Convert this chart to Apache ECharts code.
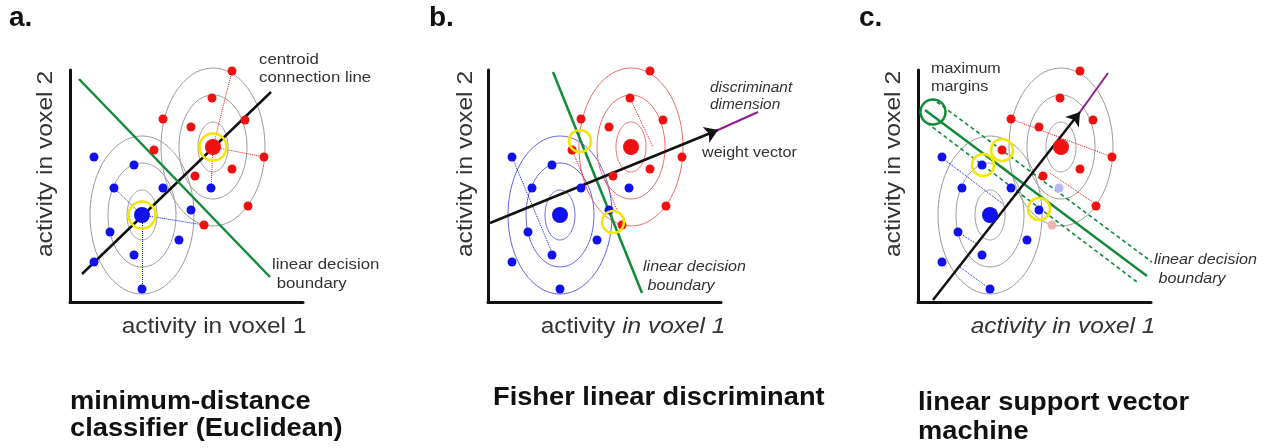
<!DOCTYPE html>
<html>
<head>
<meta charset="utf-8">
<script src="https://cdn.jsdelivr.net/npm/echarts@6/dist/echarts.min.js"></script>
<style>
  html, body { margin: 0; background: #fff; }
  #main { width: 1271px; height: 448px; }
</style>
</head>
<body>
<div id="main"></div>
<script>
// same two classes in all three panels (units: voxel activity, arbitrary)
const redPoints = [[162, 231], [142, 204], [93, 183], [121, 175], [175, 182], [84, 152],
  [194, 145], [125, 126], [162, 133], [178, 96], [134, 77]];
const bluePoints = [[24, 145], [64, 137], [44, 114], [93, 114], [141, 114], [121, 92],
  [40, 70], [109, 62], [64, 47], [24, 40], [72, 13]];
const redCentroid = [143, 155];
const blueCentroid = [72, 87];
const contourRx = [15, 34, 52];
const contourRy = [25, 52, 79];

// a. minimum-distance classifier
const aCentroidLine = [[12, 28], [201, 210]];
const aBoundary = [[9, 223], [200, 25]];
const aRedDistances = [[162, 231], [194, 145], [141, 114]];
const aBlueDistances = [[44, 114], [134, 77], [72, 13]];

// b. Fisher linear discriminant
const bBoundary = [[65, 230], [154, 9]];
const bWeight = [[2, 79], [230, 172]];
const bDiscriminant = [[230, 172], [270, 190]];
const bBlueProjections = [[[24, 145], [65, 47]]];
const bRedProjections = [[[142, 204], [165, 155]], [[84, 152], [99, 117]], [[117, 122], [129, 92]]];
const bHighlighted = [[92, 161], [125, 80]];

// c. linear support vector machine
const cWeight = [[15, 2], [162, 190]];
const cDiscriminant = [[162, 190], [190, 229]];
const cBoundary = [[7, 192], [229, 26]];
const cMargins = [[[19, 200], [234, 40]], [[9, 179], [219, 20]]];
const cBlueProjections = [[[23, 145], [85, 98]], [[40, 70], [60, 57]], [[42, 35], [72, 13]]];
const cRedProjections = [[[93, 183], [194, 145]], [[132, 129], [179, 97]]];
const cSupportVectors = [[84, 152], [65, 137], [121, 93]];
const cPaleBlue = [[141, 114]];
const cPaleRed = [[134, 77]];
const cMarginMark = [[15, 190]];

const RED = "#ee1111";
const BLUE = "#1111ee";
const GREEN = "#138a3a";
const GRAY = "#9a9a9a";
const YELLOW = "#f3e600";
const PURPLE = "#8e1e8e";
const TEXT = "#333";

const chartDom = document.getElementById("main");
const myChart = echarts.init(chartDom, null, { renderer: "canvas" });

const lefts = [70, 488, 918];

function contourData(centroid) {
  return contourRx.map((rx, i) => [centroid[0], centroid[1], rx, contourRy[i]]);
}

// ellipses drawn through the axis scale
function contours(panel, centroid, color) {
  return {
    type: "custom",
    xAxisIndex: panel,
    yAxisIndex: panel,
    silent: true,
    clip: false,
    z: 1,
    data: contourData(centroid),
    renderItem: function (params, api) {
      const c = api.coord([api.value(0), api.value(1)]);
      const s = api.size([api.value(2), api.value(3)]);
      const pts = [];
      for (let k = 0; k <= 90; k++) {
        const t = (k / 90) * 2 * Math.PI;
        pts.push([c[0] + s[0] * Math.cos(t), c[1] + s[1] * Math.sin(t)]);
      }
      return { type: "polyline", shape: { points: pts }, style: { stroke: color, fill: null, lineWidth: 1 } };
    },
  };
}

function segs(panel, list, color, width, type, z, arrow) {
  return {
    type: "lines",
    coordinateSystem: "cartesian2d",
    xAxisIndex: panel,
    yAxisIndex: panel,
    silent: true,
    clip: false,
    z: z,
    symbol: arrow ? ["none", "arrow"] : ["none", "none"],
    symbolSize: arrow ? 13 : 0,
    lineStyle: { color: color, width: width, type: type, opacity: 1 },
    data: list.map((s) => ({ coords: s })),
  };
}

function dots(panel, list, color, size, z) {
  return {
    type: "scatter",
    xAxisIndex: panel,
    yAxisIndex: panel,
    silent: true,
    clip: false,
    z: z || 4,
    symbolSize: size,
    itemStyle: { color: color, opacity: 1 },
    data: list,
  };
}

function rings(panel, list, color, size) {
  return {
    type: "scatter",
    xAxisIndex: panel,
    yAxisIndex: panel,
    silent: true,
    clip: false,
    z: 6,
    symbolSize: size,
    itemStyle: { color: "rgba(0,0,0,0)", borderColor: color, borderWidth: 2.5, opacity: 1 },
    data: list,
  };
}

function fromCentroid(c, list) {
  return list.map((p) => [c, p]);
}

const series = [
  // a
  contours(0, blueCentroid, GRAY),
  contours(0, redCentroid, GRAY),
  segs(0, fromCentroid(redCentroid, aRedDistances), RED, 1, "dotted", 2),
  segs(0, fromCentroid(blueCentroid, aBlueDistances), BLUE, 1, "dotted", 2),
  segs(0, [aCentroidLine], "#111", 2.5, "solid", 3),
  segs(0, [aBoundary], GREEN, 2.5, "solid", 3),
  dots(0, redPoints, RED, 9),
  dots(0, bluePoints, BLUE, 9),
  dots(0, [redCentroid], RED, 16),
  dots(0, [blueCentroid], BLUE, 16),
  rings(0, [redCentroid, blueCentroid], YELLOW, 27),
  // b
  contours(1, blueCentroid, "#6464e4"),
  contours(1, redCentroid, "#ea6a6a"),
  segs(1, bBlueProjections, BLUE, 1, "dotted", 2),
  segs(1, bRedProjections, RED, 1, "dotted", 2),
  segs(1, [bBoundary], GREEN, 2.5, "solid", 3),
  segs(1, [bDiscriminant], PURPLE, 2, "solid", 3),
  segs(1, [bWeight], "#111", 2.5, "solid", 3, true),
  dots(1, redPoints, RED, 9),
  dots(1, bluePoints, BLUE, 9),
  dots(1, [redCentroid], RED, 16),
  dots(1, [blueCentroid], BLUE, 16),
  rings(1, bHighlighted, YELLOW, 22),
  // c
  contours(2, blueCentroid, GRAY),
  contours(2, redCentroid, GRAY),
  segs(2, cBlueProjections, BLUE, 1, "dotted", 2),
  segs(2, cRedProjections, RED, 1, "dotted", 2),
  segs(2, cMargins, GREEN, 1.6, [4, 3], 3),
  segs(2, [cBoundary], GREEN, 2.5, "solid", 3),
  segs(2, [cDiscriminant], PURPLE, 2, "solid", 3),
  segs(2, [cWeight], "#111", 2.5, "solid", 3, true),
  dots(2, redPoints.filter((p) => p[0] !== 134), RED, 9),
  dots(2, bluePoints.filter((p) => p[0] !== 141), BLUE, 9),
  dots(2, cPaleBlue, "#b4b8f0", 9),
  dots(2, cPaleRed, "#f0b4b4", 9),
  dots(2, [redCentroid], RED, 16),
  dots(2, [blueCentroid], BLUE, 16),
  rings(2, cSupportVectors, YELLOW, 22),
  rings(2, cMarginMark, GREEN, 25),
];

// text in the figure is a little wider than the font, hence scaleX
function txt(x, y, text, font, sx, extra) {
  return {
    type: "text",
    x: x,
    y: y,
    silent: true,
    scaleX: sx,
    rotation: extra && extra.rotation ? extra.rotation : 0,
    style: Object.assign({ text: text, font: font, fill: TEXT }, extra && extra.style),
  };
}

const small = "14px Arial, 'Liberation Sans', sans-serif";
const axisFont = "22px Arial, 'Liberation Sans', sans-serif";
const capFont = "bold 25px Arial, 'Liberation Sans', sans-serif";
const tagFont = "bold 28px Arial, 'Liberation Sans', sans-serif";
const mid = { align: "center", verticalAlign: "middle" };
const up = { rotation: Math.PI / 2, style: mid };

const graphic = [
  txt(9, 4, "a.", tagFont, 1, { style: { fill: "#111" } }),
  txt(429, 4, "b.", tagFont, 1, { style: { fill: "#111" } }),
  txt(859, 4, "c.", tagFont, 1, { style: { fill: "#111" } }),

  txt(46, 164, "activity in voxel 2", axisFont, 1.12, up),
  txt(466, 164, "activity in voxel 2", axisFont, 1.12, up),
  txt(894, 164, "activity in voxel 2", axisFont, 1.12, up),

  txt(214, 327, "activity in voxel 1", axisFont, 1.11, { style: mid }),
  {
    type: "text", x: 633, y: 327, silent: true, scaleX: 1.11,
    style: {
      text: "{n|activity }{i|in voxel 1}", align: "center", verticalAlign: "middle",
      rich: {
        n: { font: axisFont, fill: TEXT },
        i: { font: "italic " + axisFont, fill: TEXT },
      },
    },
  },
  txt(1063, 327, "activity in voxel 1", "italic " + axisFont, 1.11, { style: mid }),

  // annotations
  txt(259, 51, "centroid\nconnection line", small, 1.2, { style: { lineHeight: 18 } }),
  txt(272, 256, "linear decision\n boundary", small, 1.2, { style: { lineHeight: 19 } }),
  txt(710, 80, "discriminant\ndimension", "italic " + small, 1.1, { style: { lineHeight: 17 } }),
  txt(702, 146, "weight vector", small, 1.15),
  txt(643, 258, "linear decision\n boundary", "italic " + small, 1.15, { style: { lineHeight: 19 } }),
  txt(931, 60, "maximum\nmargins", small, 1.15, { style: { lineHeight: 18 } }),
  txt(1154, 251, "linear decision\n boundary", "italic " + small, 1.15, { style: { lineHeight: 19 } }),

  // captions
  txt(70, 389, "minimum-distance\nclassifier (Euclidean)", capFont, 1.09, { style: { fill: "#111", lineHeight: 27 } }),
  txt(493, 386, "Fisher linear discriminant", capFont, 1.09, { style: { fill: "#111" } }),
  txt(918, 389, "linear support vector\nmachine", capFont, 1.09, { style: { fill: "#111", lineHeight: 29 } }),
];

const axisLine = { show: true, onZero: false, lineStyle: { color: "#111", width: 3 } };

myChart.setOption({
  animation: false,
  grid: lefts.map((l) => ({ left: l, top: 70, width: 233, height: 232 })),
  xAxis: lefts.map((l, i) => ({
    gridIndex: i, type: "value", min: 0, max: 233,
    axisLine: axisLine, axisTick: { show: false }, axisLabel: { show: false }, splitLine: { show: false },
  })),
  yAxis: lefts.map((l, i) => ({
    gridIndex: i, type: "value", min: 0, max: 232,
    axisLine: axisLine, axisTick: { show: false }, axisLabel: { show: false }, splitLine: { show: false },
  })),
  series: series,
  graphic: graphic,
});
</script>
</body>
</html>
